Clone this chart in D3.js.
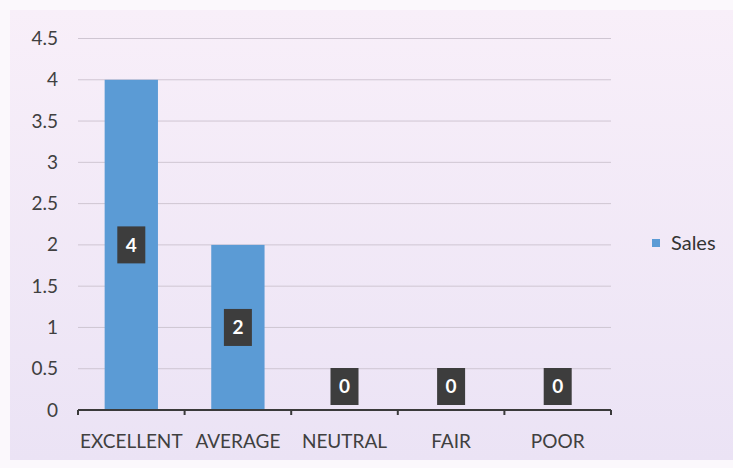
<!DOCTYPE html>
<html><head><meta charset="utf-8">
<script src="https://cdn.jsdelivr.net/npm/d3@7"></script>
<style>html,body{margin:0;padding:0;background:#fbf8fc;}svg{display:block;}</style>
</head><body>
<svg id="c" width="733" height="468"></svg>
<script>
const categories = ["EXCELLENT", "AVERAGE", "NEUTRAL", "FAIR", "POOR"];
const salesValues = [4, 2, 0, 0, 0];
const yTicks = [0, 0.5, 1, 1.5, 2, 2.5, 3, 3.5, 4, 4.5];
const seriesName = "Sales";

const svg = d3.select("#c");
const defs = svg.append("defs");
const grad = defs.append("linearGradient").attr("id","bg").attr("x1",0).attr("y1",0).attr("x2",0).attr("y2",1);
grad.append("stop").attr("offset","0%").attr("stop-color","#f8eff9");
grad.append("stop").attr("offset","100%").attr("stop-color","#ebe3f5");
svg.append("rect").attr("x",10).attr("y",10).attr("width",723).attr("height",450).attr("fill","url(#bg)");

const font = "Lato, 'Open Sans', sans-serif";
const x = d3.scaleBand().domain(categories).range([78, 611]).paddingInner(0.5).paddingOuter(0.25);
const y = d3.scaleLinear().domain([0, 4.5]).range([410, 38.5]);

// gridlines
svg.append("g").selectAll("line").data(yTicks.filter(t => t > 0)).join("line")
  .attr("x1", 78).attr("x2", 611)
  .attr("y1", d => y(d)).attr("y2", d => y(d))
  .attr("stroke", "#cfc6d2").attr("stroke-width", 1);

// y axis labels
const yAxis = d3.axisLeft(y).tickValues(yTicks).tickSize(0).tickPadding(0).tickFormat(d => String(d));
const gy = svg.append("g").attr("transform", "translate(58,0)").call(yAxis);
gy.select(".domain").remove();
gy.selectAll("text").attr("font-family", font).attr("font-size", 19).attr("fill", "#404040");

// bars
svg.append("g").selectAll("rect").data(salesValues).join("rect")
  .attr("x", (d, i) => x(categories[i]))
  .attr("width", x.bandwidth())
  .attr("y", d => y(d))
  .attr("height", d => y(0) - y(d))
  .attr("fill", "#5b9bd5");

// x axis
const xEdge = d3.scaleLinear().domain([0, categories.length]).range([78, 611]);
const gx = svg.append("g").attr("transform", "translate(0,410)");
gx.append("line").attr("x1", 78).attr("x2", 611).attr("y1", 0).attr("y2", 0).attr("stroke", "#3a3a3a").attr("stroke-width", 2);
gx.selectAll("line.tk").data(d3.range(categories.length + 1)).join("line").attr("class","tk")
  .attr("x1", d => xEdge(d)).attr("x2", d => xEdge(d)).attr("y1", 0).attr("y2", 5)
  .attr("stroke", "#3a3a3a").attr("stroke-width", 2);
gx.selectAll("text").data(categories).join("text")
  .attr("x", d => x(d) + x.bandwidth() / 2).attr("y", 38)
  .attr("text-anchor", "middle").attr("font-family", font).attr("font-size", 19).attr("fill", "#404040")
  .text(d => d);

// data labels
const bw = 28, bh = 37;
const lbl = svg.append("g").selectAll("g").data(salesValues).join("g")
  .attr("transform", (d, i) => {
    const cx = x(categories[i]) + x.bandwidth() / 2;
    const cy = Math.min(y(d / 2), y(0) - bh / 2 - 5);
    return `translate(${cx},${cy})`;
  });
lbl.append("rect").attr("x", -bw / 2).attr("y", -bh / 2).attr("width", bw).attr("height", bh)
  .attr("fill", "#3d3d3d");
lbl.append("text").attr("text-anchor", "middle").attr("dy", "0.36em")
  .attr("font-family", font).attr("font-weight", "bold").attr("font-size", 19).attr("fill", "#ffffff")
  .text(d => d);

// legend
const lg = svg.append("g").attr("transform", "translate(652,243)");
lg.append("rect").attr("x", 0).attr("y", -4).attr("width", 8).attr("height", 8).attr("fill", "#5b9bd5");
lg.append("text").attr("x", 19).attr("dy", "0.36em").attr("font-family", font).attr("font-size", 20)
  .attr("fill", "#333").text(seriesName);
</script>
</body></html>
